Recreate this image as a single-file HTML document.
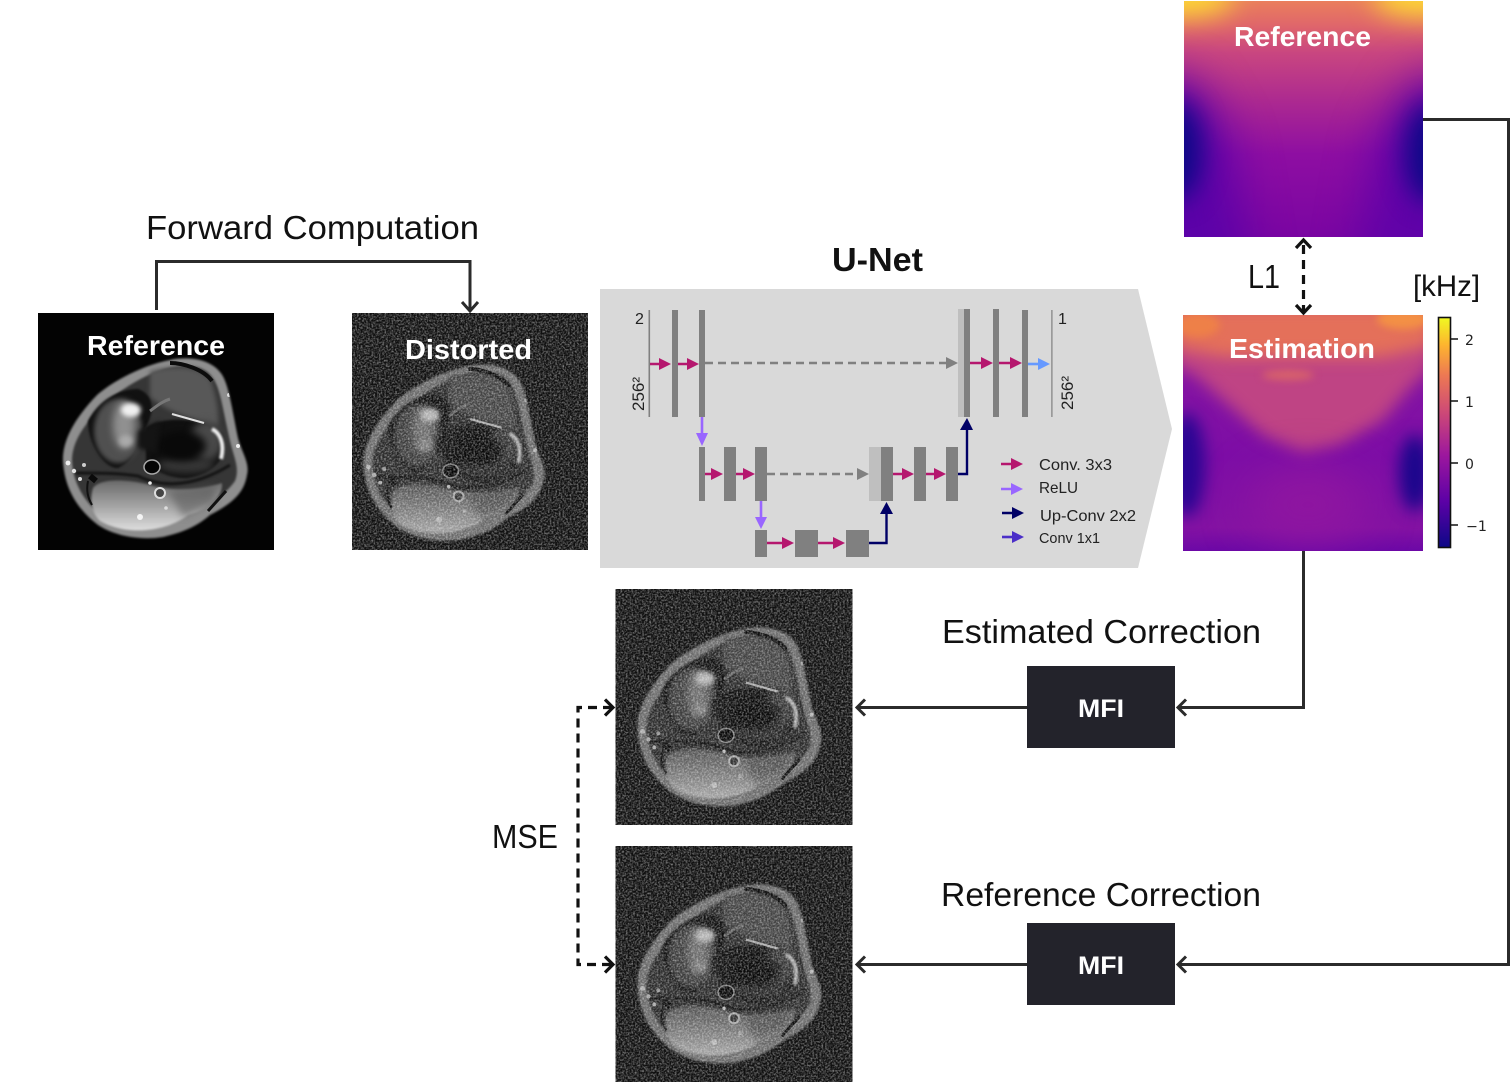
<!DOCTYPE html>
<html><head><meta charset="utf-8">
<style>
html,body{margin:0;padding:0;background:#fff}
svg{display:block}
.t{font-family:"Liberation Sans",sans-serif}
.d{font-family:"DejaVu Sans",sans-serif}
.b{font-weight:bold;fill:#fff}
</style></head><body>
<svg width="1510" height="1082" viewBox="0 0 1510 1082" xmlns="http://www.w3.org/2000/svg">
<defs>
<filter id="b1" filterUnits="userSpaceOnUse" x="-100" y="-100" width="500" height="500" color-interpolation-filters="sRGB"><feGaussianBlur stdDeviation="1"/></filter>
<filter id="b2" filterUnits="userSpaceOnUse" x="-100" y="-100" width="500" height="500" color-interpolation-filters="sRGB"><feGaussianBlur stdDeviation="2.5"/></filter>
<filter id="b3" filterUnits="userSpaceOnUse" x="-100" y="-100" width="500" height="500" color-interpolation-filters="sRGB"><feGaussianBlur stdDeviation="4"/></filter>
<filter id="b7" filterUnits="userSpaceOnUse" x="-100" y="-100" width="500" height="500" color-interpolation-filters="sRGB"><feGaussianBlur stdDeviation="8"/></filter>
<filter id="b12" filterUnits="userSpaceOnUse" x="-100" y="-100" width="500" height="500" color-interpolation-filters="sRGB"><feGaussianBlur stdDeviation="13"/></filter>
<filter id="b20" filterUnits="userSpaceOnUse" x="-100" y="-100" width="500" height="500" color-interpolation-filters="sRGB"><feGaussianBlur stdDeviation="22"/></filter>
<filter id="noise" x="0" y="0" width="100%" height="100%" color-interpolation-filters="sRGB">
<feTurbulence type="fractalNoise" baseFrequency="0.55" numOctaves="2" seed="4"/>
<feColorMatrix values="1 0 0 0 -0.38  1 0 0 0 -0.38  1 0 0 0 -0.38  0 0 0 0 1"/>
</filter>
<linearGradient id="refG" x1="0" y1="0" x2="0" y2="1">
<stop offset="0" stop-color="#ea7f5c"/><stop offset=".1" stop-color="#e0676a"/><stop offset=".22" stop-color="#c94680"/><stop offset=".42" stop-color="#ad2a90"/><stop offset=".65" stop-color="#8e0ea2"/><stop offset="1" stop-color="#7a05a2"/>
</linearGradient>
<linearGradient id="estG" x1="0" y1="0" x2="0" y2="1">
<stop offset="0" stop-color="#8a1aa0"/><stop offset=".6" stop-color="#7d0da6"/><stop offset=".9" stop-color="#8412a3"/><stop offset="1" stop-color="#6c08a6"/>
</linearGradient>
<linearGradient id="cbar" x1="0" y1="0" x2="0" y2="1">
<stop offset="0" stop-color="#f0f921"/><stop offset=".12" stop-color="#fdb42f"/><stop offset=".25" stop-color="#ed7953"/><stop offset=".42" stop-color="#cc4778"/><stop offset=".6" stop-color="#9c179e"/><stop offset=".8" stop-color="#5c01a6"/><stop offset="1" stop-color="#0d0887"/>
</linearGradient>
<linearGradient id="muscle" x1="0" y1="0" x2="0" y2="1">
<stop offset="0" stop-color="#6a6a6a"/><stop offset=".55" stop-color="#a8a8a8"/><stop offset="1" stop-color="#dedede"/>
</linearGradient>
<clipPath id="kc"><path d="M25 149C24 130 34 108 59 82C75 68 105 52 132 47C145 44 170 44 182 59C190 68 193 90 200 125C204 140 212 150 209 162C206 180 195 190 172 202C160 212 150 218 125 224C100 228 75 222 60 212C38 195 27 175 25 149Z"/></clipPath>
<g id="knee">
<path d="M25 149C24 130 34 108 59 82C75 68 105 52 132 47C145 44 170 44 182 59C190 68 193 90 200 125C204 140 212 150 209 162C206 180 195 190 172 202C160 212 150 218 125 224C100 228 75 222 60 212C38 195 27 175 25 149Z" fill="#8e8e8e" filter="url(#b1)"/>
<g clip-path="url(#kc)">
<path d="M34 148C34 128 47 110 66 92C85 74 110 60 130 55C148 51 166 52 174 64C182 74 184 92 192 128C196 145 202 155 197 168C188 180 178 188 160 196L60 200C44 185 35 168 34 148Z" fill="#363636" filter="url(#b1)"/>
<path d="M112 58C135 52 160 52 172 66C178 80 181 100 180 112C160 108 130 100 112 84Z" fill="#585858" filter="url(#b2)"/>
<path d="M50 108C60 88 80 76 100 76C112 80 118 92 110 110C100 130 100 145 80 155C65 155 50 130 50 108Z" fill="#111" filter="url(#b1)"/>
<ellipse cx="80" cy="118" rx="24" ry="32" fill="#505050" filter="url(#b2)"/>
<ellipse cx="86" cy="112" rx="11" ry="24" fill="#909090" filter="url(#b3)"/>
<ellipse cx="93" cy="97" rx="10" ry="7" fill="#f0f0f0" filter="url(#b2)"/>
<ellipse cx="88" cy="128" rx="7" ry="6" fill="#aaa" filter="url(#b2)"/>
<path d="M108 115C125 102 165 105 184 120C192 140 180 160 150 165C135 166 120 160 108 150Z" fill="#101010" filter="url(#b1)"/>
<ellipse cx="168" cy="128" rx="16" ry="20" fill="#4a4a4a" filter="url(#b3)"/>
<ellipse cx="148" cy="152" rx="28" ry="8" fill="#383838" filter="url(#b3)"/>
<ellipse cx="144" cy="133" rx="24" ry="15" fill="#090909" filter="url(#b3)"/>
<path d="M100 118L122 108L118 140L100 135Z" fill="#141414" filter="url(#b2)"/>
<path d="M174 116C182 120 187 130 183 146" fill="none" stroke="#f0f0f0" stroke-width="4" filter="url(#b1)"/>
<path d="M134 101L166 110" stroke="#e0e0e0" stroke-width="2.2" fill="none"/>
<path d="M112 98C120 92 125 88 132 86" stroke="#777" stroke-width="3" fill="none"/>
<path d="M132 50C145 50 165 56 174 68" fill="none" stroke="#0c0c0c" stroke-width="4"/>
<ellipse cx="114" cy="154" rx="8" ry="7" fill="#050505" stroke="#aaa" stroke-width="1.5"/>
<path d="M55 175C62 165 90 166 112 172C130 178 160 178 184 170C185 185 170 196 150 202C130 218 90 224 62 208C52 198 52 185 55 175Z" fill="url(#muscle)" filter="url(#b1)"/>
<path d="M130 178L178 172L176 190L145 204Z" fill="#555" opacity=".55" filter="url(#b3)"/>
<path d="M38 160C60 160 80 160 100 163C118 172 150 178 192 152" fill="none" stroke="#141414" stroke-width="3" filter="url(#b1)"/>
<path d="M50 168C48 178 50 185 54 192" fill="none" stroke="#111" stroke-width="2"/>
<circle cx="122" cy="180" r="5" fill="#444" stroke="#ddd" stroke-width="2"/>
<circle cx="112" cy="170" r="1.8" fill="#eee"/><circle cx="128" cy="195" r="1.8" fill="#ddd"/>
<circle cx="30" cy="150" r="2.4" fill="#eee"/><circle cx="36" cy="158" r="2.2" fill="#e0e0e0"/><circle cx="42" cy="166" r="2" fill="#ddd"/><circle cx="46" cy="152" r="2" fill="#ccc"/>
<circle cx="102" cy="204" r="3" fill="#f4f4f4"/>
<circle cx="200" cy="133" r="2" fill="#eee"/><circle cx="191" cy="82" r="2" fill="#ddd"/>
<path d="M170 198L188 178" stroke="#111" stroke-width="3"/>
<path d="M52 163L58 168" stroke="#0a0a0a" stroke-width="6"/>
</g>
</g>
</defs>

<rect width="1510" height="1082" fill="#fff"/>

<!-- MRI images -->
<rect x="38" y="313" width="236" height="237" fill="#030303"/>
<svg x="38" y="313" width="236" height="237" viewBox="0 0 236 237"><use href="#knee"/></svg>
<svg x="352" y="313" width="236" height="237" viewBox="0 0 236 237"><rect width="236" height="237" fill="#101010"/><g transform="translate(-13 7) scale(.98)" opacity=".72"><use href="#knee"/></g><rect width="236" height="237" filter="url(#noise)" style="mix-blend-mode:screen"/></svg>
<svg x="615" y="589" width="238" height="236" viewBox="0 0 238 237"><rect width="238" height="237" fill="#101010"/><g transform="translate(-3 -7)" opacity=".72"><use href="#knee"/></g><rect width="238" height="237" filter="url(#noise)" style="mix-blend-mode:screen"/></svg>
<svg x="615" y="846" width="238" height="236" viewBox="0 0 238 237"><rect width="238" height="237" fill="#101010"/><g transform="translate(-3 -7)" opacity=".72"><use href="#knee"/></g><rect width="238" height="237" filter="url(#noise)" style="mix-blend-mode:screen"/></svg>

<!-- Reference heat map -->
<svg x="1184" y="1" width="239" height="236" viewBox="0 0 239 236">
<rect width="239" height="236" fill="url(#refG)"/>
<path d="M-50 70L10 80L45 140L70 290L-50 290Z" fill="#5c02a8" filter="url(#b20)"/>
<path d="M289 70L229 80L194 140L169 290L289 290Z" fill="#6002a8" filter="url(#b20)"/>
<ellipse cx="-8" cy="150" rx="26" ry="50" fill="#0d0887" filter="url(#b12)"/>
<ellipse cx="247" cy="152" rx="26" ry="50" fill="#0d0887" filter="url(#b12)"/>
<ellipse cx="0" cy="-4" rx="50" ry="20" fill="#fdd835" filter="url(#b12)"/>
<ellipse cx="239" cy="-4" rx="50" ry="20" fill="#fdd835" filter="url(#b12)"/>
</svg>

<!-- Estimation heat map -->
<svg x="1183" y="315" width="240" height="236" viewBox="0 0 240 236">
<rect width="240" height="236" fill="url(#estG)"/>
<path d="M-10 -10H250V50L225 75L200 105L155 130L120 138L80 120L40 85L12 60L-10 50Z" fill="#bf4484" filter="url(#b7)"/>
<path d="M-10 -10H250V30L200 42H40L-10 32Z" fill="#e4705a" filter="url(#b7)"/>
<ellipse cx="220" cy="4" rx="26" ry="10" fill="#f39045" filter="url(#b3)"/>
<ellipse cx="15" cy="10" rx="22" ry="12" fill="#ee8048" filter="url(#b3)"/>
<ellipse cx="105" cy="60" rx="26" ry="5" fill="#d8626a" filter="url(#b3)"/>
<ellipse cx="125" cy="190" rx="60" ry="36" fill="#8f16a0" filter="url(#b20)"/>
<ellipse cx="4" cy="150" rx="18" ry="52" fill="#2a0593" filter="url(#b7)"/>
<ellipse cx="232" cy="158" rx="16" ry="38" fill="#1b068c" filter="url(#b7)"/>
</svg>

<!-- Colorbar -->
<rect x="1438.5" y="317.5" width="12" height="230" fill="url(#cbar)" stroke="#111" stroke-width="1.6"/>
<g stroke="#111" stroke-width="1.5"><path d="M1451 339h7M1451 401h7M1451 463h7M1451 525h7"/></g>
<g class="d" font-size="14" fill="#222">
<text x="1465" y="345">2</text><text x="1465" y="407">1</text><text x="1465" y="469">0</text><text x="1466" y="531" textLength="21" lengthAdjust="spacingAndGlyphs">−1</text>
</g>

<!-- U-Net panel -->
<path d="M600 289H1138L1172 429L1138 568H600Z" fill="#d9d9d9"/>
<g fill="#808080">
<rect x="648.5" y="310" width="1.6" height="107"/>
<rect x="672" y="310" width="6" height="107"/>
<rect x="699" y="310" width="6" height="107"/>
<rect x="699" y="447" width="6" height="54"/>
<rect x="724" y="447" width="12" height="54"/>
<rect x="755" y="447" width="12" height="54"/>
<rect x="881" y="447" width="12" height="54"/>
<rect x="914" y="447" width="12" height="54"/>
<rect x="946" y="447" width="12" height="54"/>
<rect x="755" y="530" width="12" height="27"/>
<rect x="795" y="530" width="23" height="27"/>
<rect x="846" y="530" width="23" height="27"/>
<rect x="964" y="309" width="6" height="108"/>
<rect x="993" y="309" width="6" height="108"/>
<rect x="1022" y="310" width="6" height="107"/>
<rect x="1051.3" y="310" width="1.2" height="107"/>
</g>
<rect x="869" y="447" width="12" height="54" fill="#bfbfbf"/>
<rect x="958" y="309" width="6" height="108" fill="#bfbfbf"/>

<!-- gray dashed -->
<g stroke="#808080" stroke-width="2.4" stroke-dasharray="8 5" fill="none"><path d="M705 363H946"/><path d="M767 474H858"/></g>
<g fill="#808080"><path d="M946 357L958 363L946 369Z"/><path d="M857 468L869 474L857 480Z"/></g>

<!-- magenta arrows -->
<g stroke="#b5176e" stroke-width="2.6" fill="none">
<path d="M650 364H660M678 364H688M705 474H712M736 474H744M767 543H783M818 543H834M893 474H903M926 474H935M970 363H982M999 363H1011M1001 464H1013"/>
</g>
<g fill="#b5176e">
<path d="M659 358L671 364L659 370Z"/><path d="M687 358L699 364L687 370Z"/>
<path d="M711 468L723 474L711 480Z"/><path d="M743 468L755 474L743 480Z"/>
<path d="M782 537L794 543L782 549Z"/><path d="M833 537L845 543L833 549Z"/>
<path d="M902 468L914 474L902 480Z"/><path d="M934 468L946 474L934 480Z"/>
<path d="M981 357L993 363L981 369Z"/><path d="M1010 357L1022 363L1010 369Z"/>
<path d="M1011 458L1023 464L1011 470Z"/>
</g>
<!-- purple -->
<g stroke="#9966ff" stroke-width="2.6" fill="none"><path d="M702 417V434M761 501V518M1001 489H1013"/></g>
<g fill="#9966ff"><path d="M696 433H708L702 446Z"/><path d="M755 517H767L761 529Z"/><path d="M1011 483L1023 489L1011 495Z"/></g>
<!-- blue -->
<path d="M1028 364H1040" stroke="#6699ff" stroke-width="2.6"/><path d="M1038 358L1050 364L1038 370Z" fill="#6699ff"/>
<!-- navy -->
<g stroke="#000066" stroke-width="2.4" fill="none"><path d="M869 543H886.500V512M958 474H967V428M1002 513H1014"/></g>
<g fill="#000066"><path d="M880 514H893L886.500 502Z"/><path d="M960 430H973L967 418Z"/><path d="M1012 507L1024 513L1012 519Z"/></g>
<!-- conv1x1 -->
<path d="M1002 537H1014" stroke="#4b2fc8" stroke-width="2.6"/><path d="M1012 531L1024 537L1012 543Z" fill="#4b2fc8"/>

<!-- U-Net labels -->
<g class="t" fill="#222">
<text x="635" y="324" font-size="16">2</text>
<text x="1058" y="324" font-size="16">1</text>
<text transform="translate(644 411) rotate(-90)" font-size="17" textLength="34" lengthAdjust="spacingAndGlyphs">256²</text>
<text transform="translate(1073 410) rotate(-90)" font-size="17" textLength="34" lengthAdjust="spacingAndGlyphs">256²</text>
<text x="1039" y="470" font-size="16" textLength="73" lengthAdjust="spacingAndGlyphs">Conv. 3x3</text>
<text x="1039" y="493" font-size="16" textLength="39" lengthAdjust="spacingAndGlyphs">ReLU</text>
<text x="1040" y="521" font-size="16" textLength="96" lengthAdjust="spacingAndGlyphs">Up-Conv 2x2</text>
<text x="1039" y="543" font-size="15" textLength="61" lengthAdjust="spacingAndGlyphs">Conv 1x1</text>
</g>

<!-- MFI -->
<rect x="1027" y="666" width="148" height="82" fill="#23232b"/>
<rect x="1027" y="923" width="148" height="82" fill="#23232b"/>

<!-- Connectors -->
<g stroke="#2b2b2b" stroke-width="3" fill="none">
<path d="M156.500 310V261.500H470V309"/>
<path d="M462 302L470 311L478 302"/>
<path d="M1303.500 551V707.500H1179"/>
<path d="M1186 699.500L1178 707.500L1186 715.500"/>
<path d="M1027 707.500H857"/>
<path d="M865 699.500L857 707.500L865 715.500"/>
<path d="M1423 119.500H1508.500V964.500H1179"/>
<path d="M1186 956.500L1178 964.500L1186 972.500"/>
<path d="M1027 964.500H857"/>
<path d="M865 956.500L857 964.500L865 972.500"/>
</g>
<g stroke="#111" stroke-width="3.2" fill="none">
<path d="M1303.500 245V312" stroke-dasharray="9 6"/>
<path d="M1296 248L1303.500 240L1311 248"/>
<path d="M1296 305L1303.500 313L1311 305"/>
<path d="M612 707.500H578V964.500H612" stroke-dasharray="9 6"/>
<path d="M605 699.500L613 707.500L605 715.500"/>
<path d="M605 956.500L613 964.500L605 972.500"/>
</g>

<!-- Text -->
<g class="t" fill="#111">
<text x="146" y="239" font-size="33" textLength="333" lengthAdjust="spacingAndGlyphs">Forward Computation</text>
<text x="832" y="271" font-size="33" font-weight="bold" textLength="91" lengthAdjust="spacingAndGlyphs">U-Net</text>
<text x="1248" y="288" font-size="33" textLength="32" lengthAdjust="spacingAndGlyphs">L1</text>
<text x="1413" y="296" font-size="30" textLength="67" lengthAdjust="spacingAndGlyphs">[kHz]</text>
<text x="942" y="643" font-size="33" textLength="319" lengthAdjust="spacingAndGlyphs">Estimated Correction</text>
<text x="941" y="906" font-size="33" textLength="320" lengthAdjust="spacingAndGlyphs">Reference Correction</text>
<text x="492" y="848" font-size="33" textLength="66" lengthAdjust="spacingAndGlyphs">MSE</text>
</g>
<g class="t b" font-size="28">
<text x="87" y="355" textLength="138" lengthAdjust="spacingAndGlyphs">Reference</text>
<text x="405" y="359" textLength="127" lengthAdjust="spacingAndGlyphs">Distorted</text>
<text x="1234" y="46" textLength="137" lengthAdjust="spacingAndGlyphs">Reference</text>
<text x="1229" y="358" textLength="146" lengthAdjust="spacingAndGlyphs">Estimation</text>
<text x="1078" y="717" font-size="25" textLength="46" lengthAdjust="spacingAndGlyphs">MFI</text>
<text x="1078" y="974" font-size="25" textLength="46" lengthAdjust="spacingAndGlyphs">MFI</text>
</g>
</svg>
</body></html>
